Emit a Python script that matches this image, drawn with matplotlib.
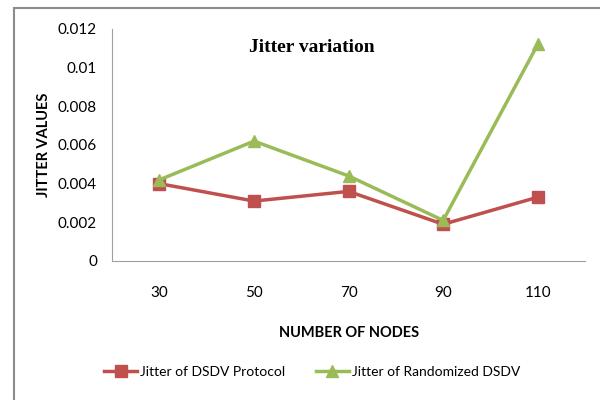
import matplotlib.pyplot as plt
from matplotlib.patches import Rectangle

# data
nodes = ['30', '50', '70', '90', '110']
dsdv = [0.0040, 0.0031, 0.0036, 0.0019, 0.0033]
rand_dsdv = [0.0042, 0.0062, 0.0044, 0.0021, 0.0112]
yticks = [0, 0.002, 0.004, 0.006, 0.008, 0.01, 0.012]
ytick_labels = ['0', '0.002', '0.004', '0.006', '0.008', '0.01', '0.012']

fig = plt.figure(figsize=(6, 4), dpi=100)
ax = fig.add_axes([0.187, 0.3475, 0.788, 0.58])

# outer chart frame
fig.patches.append(Rectangle((14 / 600, -0.05), 1.0, 1.03,
                             transform=fig.transFigure, fill=False,
                             edgecolor='#8c8c8c', linewidth=1.5))

x = range(len(nodes))
ax.plot(x, dsdv, color='#C0504D', lw=2.5, marker='s', ms=8,
        label='Jitter of DSDV Protocol')
ax.plot(x, rand_dsdv, color='#9BBB59', lw=2.5, marker='^', ms=8.5,
        label='Jitter of Randomized DSDV')

ax.set_xlim(-0.5, len(nodes) - 0.5)
ax.set_ylim(0, 0.012)
ax.set_xticks(list(x))
ax.set_xticklabels(nodes, fontsize=11, family='Lato')
ax.set_yticks(yticks)
ax.set_yticklabels(ytick_labels, fontsize=11, family='Lato')
ax.tick_params(length=0, pad=11)
ax.tick_params(axis='x', pad=18)

for s in ['top', 'right']:
    ax.spines[s].set_visible(False)
for s in ['left', 'bottom']:
    ax.spines[s].set_color('#a0a0a0')

ax.set_xlabel('NUMBER OF NODES', fontsize=10.5, fontweight='bold',
              family='Lato', labelpad=19)
ax.set_ylabel('JITTER VALUES', fontsize=10.5, fontweight='bold',
              family='Lato', labelpad=5)
ax.text(0.29, 0.92, 'Jitter variation', transform=ax.transAxes,
        fontsize=14, fontweight='bold', family='Liberation Serif', va='center')

fig.legend(loc='center', bbox_to_anchor=(0.52, 0.07), ncol=2, frameon=False,
           prop={'family': 'Lato', 'size': 10},
           handlelength=2.4, handletextpad=0.2, columnspacing=2.2)

plt.savefig('out.png', dpi=100)
